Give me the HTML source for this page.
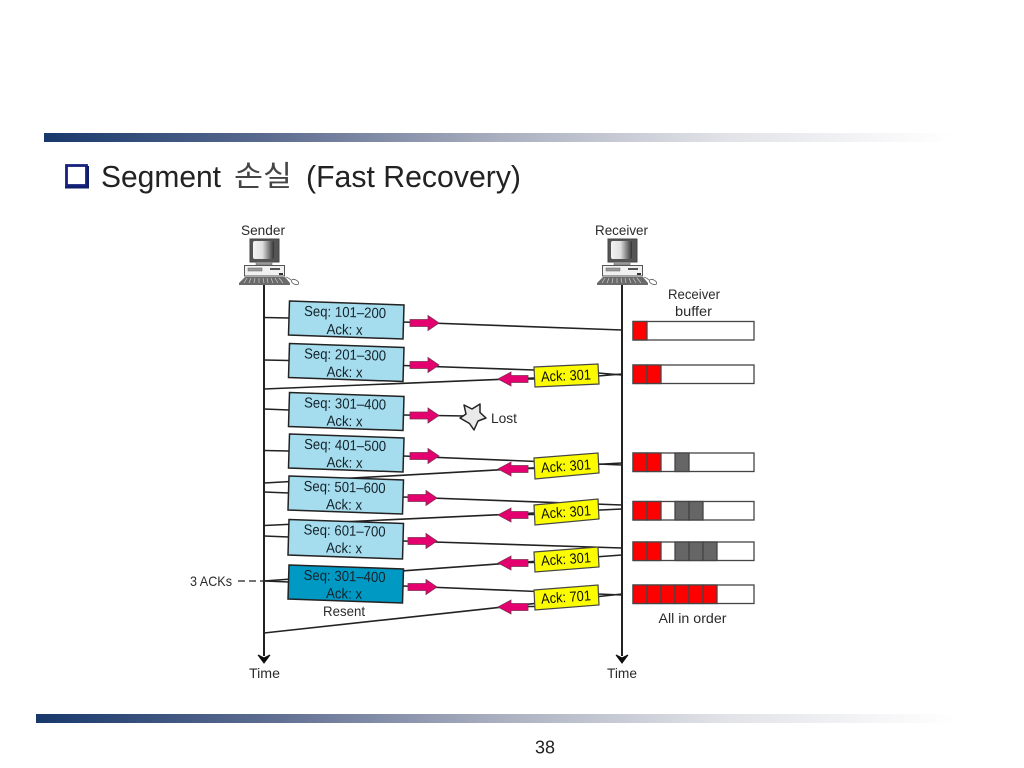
<!DOCTYPE html>
<html>
<head>
<meta charset="utf-8">
<style>
html,body{margin:0;padding:0;background:#fff;width:1024px;height:768px;overflow:hidden}
svg{display:block}
text{font-family:"Liberation Sans","Noto Sans CJK KR",sans-serif;fill:#2b2b2b}
.d{font-size:14px}
.bx text{font-size:14.500px;fill:#14232a}
.ack{font-size:14.500px;fill:#111}
</style>
</head>
<body>
<svg width="1024" height="768" viewBox="0 0 1024 768" xmlns="http://www.w3.org/2000/svg">
<defs>
<linearGradient id="bar" x1="0" x2="1" y1="0" y2="0">
<stop offset="0" stop-color="#17386b"/>
<stop offset=".25" stop-color="#5d6c90"/>
<stop offset=".5" stop-color="#a9afbf"/>
<stop offset=".75" stop-color="#e2e3e8"/>
<stop offset="1" stop-color="#ffffff"/>
</linearGradient>
<linearGradient id="scr" x1="0" x2="1" y1="0" y2="0">
<stop offset="0" stop-color="#f4f4f4"/>
<stop offset=".45" stop-color="#e0e0e0"/>
<stop offset="1" stop-color="#333"/>
</linearGradient>
<filter id="soft" x="-2%" y="-2%" width="104%" height="104%"><feGaussianBlur stdDeviation="0.35"/></filter>
<g id="pc">
<rect x="250" y="239" width="29" height="23" fill="#555" stroke="#444"/>
<rect x="253" y="241" width="21" height="18" rx="2" fill="url(#scr)"/>
<rect x="256" y="262" width="16" height="3" fill="#999" stroke="#666" stroke-width=".5"/>
<rect x="244.500" y="265.500" width="40" height="10.500" fill="#f1f1f1" stroke="#555"/>
<rect x="248" y="268" width="14" height="3" fill="#999" stroke="#666" stroke-width=".5"/>
<rect x="270" y="268" width="10" height="2" fill="#555"/>
<rect x="279" y="273" width="4" height="2" fill="#333"/>
<polygon points="245,277 285,277 290,283 290,285 239,285 239,283" fill="#6a6a6a"/>
<path d="M247 278l-3 5M251 278l-2 5M255 278l-1 5M259 278v5M263 278l1 5M267 278l1 5M271 278l2 5M275 278l3 5M279 278l4 5" stroke="#ccc" stroke-width=".7"/>
<path d="M286 277q3 1 5 3" fill="none" stroke="#666" stroke-width=".8"/>
<ellipse cx="295" cy="282" rx="4" ry="2.200" fill="#fff" stroke="#666" stroke-width=".9" transform="rotate(25 295 282)"/>
</g>
<g id="ar"><polygon points="0,-3.500 18,-3.500 18,-7.500 29,0 18,7.500 18,3.500 0,3.500" fill="#e5006f" stroke="#7d3050" stroke-width=".8"/></g>
<g id="al"><polygon points="0,0 13,-7 13,-3.500 30,-3.500 30,3.500 13,3.500 13,7" fill="#e5006f" stroke="#7d3050" stroke-width=".8"/></g>
<polygon id="bq" points="289.500,301 404,305 403,339 288.500,335" stroke="#222" stroke-width="1.500"/>
</defs>

<rect x="44" y="133" width="910" height="9" fill="url(#bar)"/>
<rect x="36" y="714" width="920" height="9" fill="url(#bar)"/>

<g filter="url(#soft)">
<rect x="66.500" y="165.500" width="20" height="20" fill="#fff" stroke="#16247c" stroke-width="2.800"/>
<path d="M65 187.500H88V166" fill="none" stroke="#101a66" stroke-width="2"/>
<text x="101" y="187" font-size="31" textLength="120" lengthAdjust="spacingAndGlyphs" style="fill:#222">Segment</text>
<text x="234" y="186" font-size="29" textLength="58" lengthAdjust="spacingAndGlyphs" style="fill:#444">손실</text>
<text x="306" y="187" font-size="31" textLength="215" lengthAdjust="spacingAndGlyphs" style="fill:#222">(Fast Recovery)</text>
</g>
<text x="535" y="753.500" font-size="18" style="fill:#222" textLength="20" lengthAdjust="spacingAndGlyphs">38</text>

<g filter="url(#soft)">
<text class="d" x="241" y="235" textLength="44" lengthAdjust="spacingAndGlyphs">Sender</text>
<text class="d" x="595" y="235" textLength="53" lengthAdjust="spacingAndGlyphs">Receiver</text>
<use href="#pc"/>
<use href="#pc" transform="translate(358 0)"/>

<g fill="none" stroke="#222" stroke-width="1.600">
<path d="M264 285V656M622 285V656" stroke-width="2"/>
<path d="M264 317.500L289 318M403 322L622 330"/>
<path d="M264 360L289 360.500M403 365.500L534 370M598 373L622 375"/>
<path d="M264 389L534 378M598 376L622 374"/>
<path d="M264 409L289 410M403 415L466 416"/>
<path d="M264 450.500L289 451M403 456L622 465"/>
<path d="M264 483L622 463"/>
<path d="M264 492L289 493M403 497L622 505"/>
<path d="M264 525.500L622 509"/>
<path d="M264 536L289 537M403 541L622 548"/>
<path d="M264 581L622 555"/>
<path d="M264 581L289 582M403 586L622 595"/>
<path d="M264 633L622 594"/>
<path d="M238 581H264" stroke-dasharray="7 4" stroke-width="1.200"/>
</g>
<polygon points="258,655 264,663 270,655 264,658" fill="#111" stroke="#111"/>
<polygon points="616,655 622,663 628,655 622,658" fill="#111" stroke="#111"/>
<text class="d" x="249" y="678" textLength="31" lengthAdjust="spacingAndGlyphs">Time</text>
<text class="d" x="607" y="678" textLength="30" lengthAdjust="spacingAndGlyphs">Time</text>
<text class="d" x="190" y="586" textLength="42" lengthAdjust="spacingAndGlyphs">3 ACKs</text>

<g class="bx">
<g><use href="#bq" fill="#a5dcee"/>
<text x="304" y="317" textLength="82" lengthAdjust="spacingAndGlyphs" transform="rotate(1.500 345 317)">Seq: 101–200</text>
<text x="326.500" y="334.500" textLength="36" lengthAdjust="spacingAndGlyphs" transform="rotate(1.500 345 334)">Ack: x</text></g>
<g transform="translate(0 42.500)"><use href="#bq" fill="#a5dcee"/>
<text x="304" y="317" textLength="82" lengthAdjust="spacingAndGlyphs" transform="rotate(1.500 345 317)">Seq: 201–300</text>
<text x="326.500" y="334.500" textLength="36" lengthAdjust="spacingAndGlyphs" transform="rotate(1.500 345 334)">Ack: x</text></g>
<g transform="translate(0 91.500)"><use href="#bq" fill="#a5dcee"/>
<text x="304" y="317" textLength="82" lengthAdjust="spacingAndGlyphs" transform="rotate(1.500 345 317)">Seq: 301–400</text>
<text x="326.500" y="334.500" textLength="36" lengthAdjust="spacingAndGlyphs" transform="rotate(1.500 345 334)">Ack: x</text></g>
<g transform="translate(0 133)"><use href="#bq" fill="#a5dcee"/>
<text x="304" y="317" textLength="82" lengthAdjust="spacingAndGlyphs" transform="rotate(1.500 345 317)">Seq: 401–500</text>
<text x="326.500" y="334.500" textLength="36" lengthAdjust="spacingAndGlyphs" transform="rotate(1.500 345 334)">Ack: x</text></g>
<g transform="translate(-.500 175)"><use href="#bq" fill="#a5dcee"/>
<text x="304" y="317" textLength="82" lengthAdjust="spacingAndGlyphs" transform="rotate(1.500 345 317)">Seq: 501–600</text>
<text x="326.500" y="334.500" textLength="36" lengthAdjust="spacingAndGlyphs" transform="rotate(1.500 345 334)">Ack: x</text></g>
<g transform="translate(-.500 218.500)">
<polygon points="289.500,301 404,305 403,340.500 288.500,336.500" stroke="#222" stroke-width="1.500" fill="#a5dcee"/>
<text x="304" y="317" textLength="82" lengthAdjust="spacingAndGlyphs" transform="rotate(1.500 345 317)">Seq: 601–700</text>
<text x="326.500" y="334.500" textLength="36" lengthAdjust="spacingAndGlyphs" transform="rotate(1.500 345 334)">Ack: x</text></g>
<g transform="translate(-.500 264)"><use href="#bq" fill="#0499c4"/>
<text x="304" y="317" textLength="82" lengthAdjust="spacingAndGlyphs" transform="rotate(1.500 345 317)">Seq: 301–400</text>
<text x="326.500" y="334.500" textLength="36" lengthAdjust="spacingAndGlyphs" transform="rotate(1.500 345 334)">Ack: x</text></g>
</g>
<text class="d" x="323" y="616" textLength="42" lengthAdjust="spacingAndGlyphs">Resent</text>

<use href="#ar" x="410" y="323"/>
<use href="#ar" x="410" y="365"/>
<use href="#ar" x="410" y="415.500"/>
<use href="#ar" x="410" y="456"/>
<use href="#ar" x="408" y="498"/>
<use href="#ar" x="408" y="541"/>
<use href="#ar" x="408" y="587"/>

<polygon points="464,405 472,409 480,404 480,412.500 486,418 478,421 474,430 469.500,423.500 460,418 466,414" fill="#e9e9e9" stroke="#222" stroke-width="1.500" stroke-linejoin="round"/>
<text class="d" x="491" y="423" textLength="26" lengthAdjust="spacingAndGlyphs">Lost</text>

<use href="#al" x="498" y="379"/>
<use href="#al" x="498" y="469"/>
<use href="#al" x="498" y="515"/>
<use href="#al" x="498" y="563"/>
<use href="#al" x="498" y="607"/>
<path d="M528 379H535M528 468.500H535M528 514.500H535M528 562.500H535M528 606.500H535" stroke="#222" stroke-width="1.600"/>

<g stroke="#444" stroke-width="1.200" fill="#fcfc00">
<polygon points="534,367 598,364 599,384 535,387"/>
<polygon points="534,458 598,453 599,473 535,479"/>
<polygon points="534,505 598,499 599,519 535,525"/>
<polygon points="534,552 598,547 599,567 535,572"/>
<polygon points="534,590 598,585 599,605 535,610"/>
</g>
<text class="ack" x="541" y="380.500" textLength="50" lengthAdjust="spacingAndGlyphs" transform="rotate(-2.500 566 376)">Ack: 301</text>
<text class="ack" x="541" y="471" textLength="50" lengthAdjust="spacingAndGlyphs" transform="rotate(-4 566 466)">Ack: 301</text>
<text class="ack" x="541" y="517" textLength="50" lengthAdjust="spacingAndGlyphs" transform="rotate(-4 566 512)">Ack: 301</text>
<text class="ack" x="541" y="564" textLength="50" lengthAdjust="spacingAndGlyphs" transform="rotate(-4 566 559)">Ack: 301</text>
<text class="ack" x="541" y="602" textLength="50" lengthAdjust="spacingAndGlyphs" transform="rotate(-4 566 597)">Ack: 701</text>

<text class="d" x="668" y="299" textLength="52" lengthAdjust="spacingAndGlyphs">Receiver</text>
<text class="d" x="675" y="316" textLength="37" lengthAdjust="spacingAndGlyphs">buffer</text>
<text class="d" x="658.500" y="623" textLength="68" lengthAdjust="spacingAndGlyphs">All in order</text>

<g stroke="#444" stroke-width="1.300">
<rect x="633" y="321.500" width="121" height="18.500" fill="#fff"/>
<rect x="633" y="321.500" width="14" height="18.500" fill="#f00"/>

<rect x="633" y="365" width="121" height="18.500" fill="#fff"/>
<rect x="633" y="365" width="14" height="18.500" fill="#f00"/>
<rect x="647" y="365" width="14" height="18.500" fill="#f00"/>

<rect x="633" y="453" width="121" height="18.500" fill="#fff"/>
<rect x="633" y="453" width="14" height="18.500" fill="#f00"/>
<rect x="647" y="453" width="14" height="18.500" fill="#f00"/>
<rect x="675" y="453" width="14" height="18.500" fill="#666"/>

<rect x="633" y="501.500" width="121" height="18.500" fill="#fff"/>
<rect x="633" y="501.500" width="14" height="18.500" fill="#f00"/>
<rect x="647" y="501.500" width="14" height="18.500" fill="#f00"/>
<rect x="675" y="501.500" width="14" height="18.500" fill="#666"/>
<rect x="689" y="501.500" width="14" height="18.500" fill="#666"/>

<rect x="633" y="542" width="121" height="18.500" fill="#fff"/>
<rect x="633" y="542" width="14" height="18.500" fill="#f00"/>
<rect x="647" y="542" width="14" height="18.500" fill="#f00"/>
<rect x="675" y="542" width="14" height="18.500" fill="#666"/>
<rect x="689" y="542" width="14" height="18.500" fill="#666"/>
<rect x="703" y="542" width="14" height="18.500" fill="#666"/>

<rect x="633" y="585" width="121" height="18.500" fill="#fff"/>
<rect x="633" y="585" width="14" height="18.500" fill="#f00"/>
<rect x="647" y="585" width="14" height="18.500" fill="#f00"/>
<rect x="661" y="585" width="14" height="18.500" fill="#f00"/>
<rect x="675" y="585" width="14" height="18.500" fill="#f00"/>
<rect x="689" y="585" width="14" height="18.500" fill="#f00"/>
<rect x="703" y="585" width="14" height="18.500" fill="#f00"/>
</g>
</g>
</svg>
</body>
</html>
